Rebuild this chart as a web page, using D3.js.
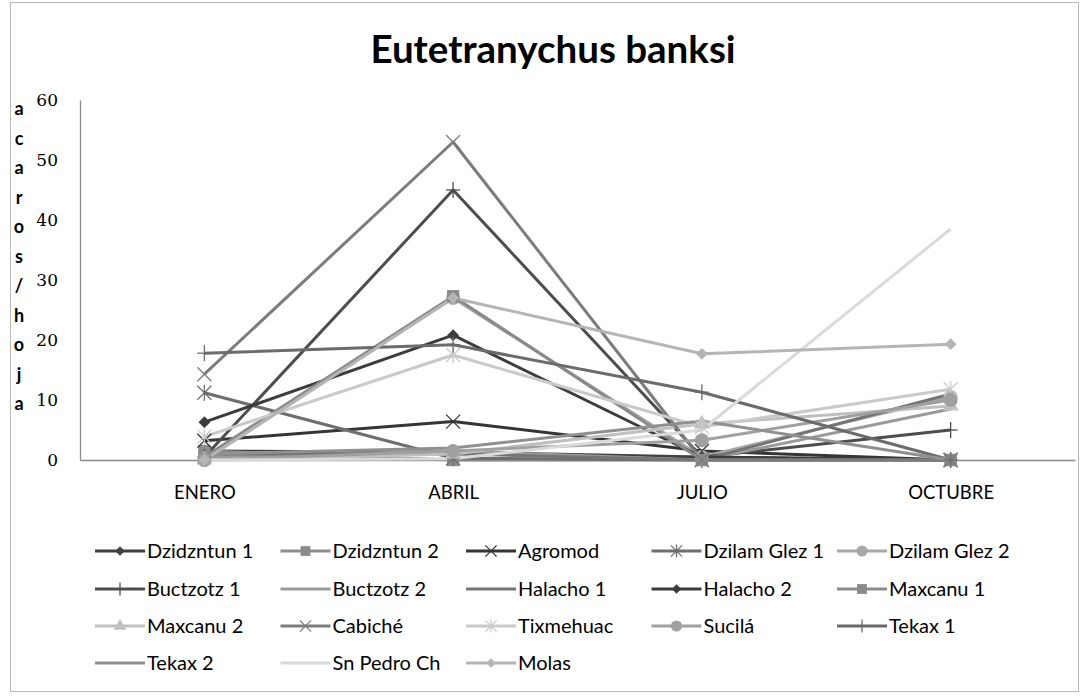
<!DOCTYPE html>
<html>
<head>
<meta charset="utf-8">
<script src="https://cdn.jsdelivr.net/npm/d3@7"></script>
<style>
  body { margin: 0; background: #fff; }
  svg { display: block; }
</style>
</head>
<body>
<div id="chart-area"></div>
<script>
// --- Data ---
var months = ["ENERO", "ABRIL", "JULIO", "OCTUBRE"];
var yTicks = [0, 10, 20, 30, 40, 50, 60];
var yTitle = ["a", "c", "a", "r", "o", "s", "/", "h", "o", "j", "a"];

var names = ["Dzidzntun 1", "Dzidzntun 2", "Agromod", "Dzilam Glez 1", "Dzilam Glez 2",
  "Buctzotz 1", "Buctzotz 2", "Halacho 1", "Halacho 2", "Maxcanu 1",
  "Maxcanu 2", "Cabiché", "Tixmehuac", "Sucilá", "Tekax 1",
  "Tekax 2", "Sn Pedro Ch", "Molas"];

var dzidzntun1 = [1.5, 1.3, 0.5, 0];
var dzidzntun2 = [1.5, 0, 0, 0];
var agromod = [3.2, 6.4, 1.5, 0];
var dzilamGlez1 = [11.2, 0.3, 0, 0];
var dzilamGlez2 = [0, 27, 0.5, 10.5];
var buctzotz1 = [0.5, 45, 0.5, 5];
var buctzotz2 = [0.5, 1.5, 0, 8.5];
var halacho1 = [1, 1, 0, 11];
var halacho2 = [6.3, 20.8, 0.5, 0];
var maxcanu1 = [0.5, 27.3, 0, 0];
var maxcanu2 = [0, 1, 6, 9];
var cabiche = [14.3, 53, 0, 0];
var tixmehuac = [3.9, 17.5, 5.5, 11.8];
var sucila = [0, 1.5, 3.3, 10];
var tekax1 = [17.8, 19.2, 11.3, 0];
var tekax2 = [1, 2, 6.5, 0];
var snPedro = [0, 0.2, 5, 38.5];
var molas = [0, 27, 17.7, 19.3];

var values = [dzidzntun1, dzidzntun2, agromod, dzilamGlez1, dzilamGlez2,
  buctzotz1, buctzotz2, halacho1, halacho2, maxcanu1,
  maxcanu2, cabiche, tixmehuac, sucila, tekax1,
  tekax2, snPedro, molas];

// grey shades + marker kind per series
var colors = ["#404040", "#8c8c8c", "#353535", "#6e6e6e", "#a8a8a8",
  "#4d4d4d", "#9a9a9a", "#747474", "#3c3c3c", "#8a8a8a",
  "#c0c0c0", "#7c7c7c", "#cacaca", "#a0a0a0", "#6b6b6b",
  "#909090", "#dadada", "#b5b5b5"];
var markers = ["diamond", "square", "x", "asterisk", "circle",
  "plus", "none", "none", "diamond", "square",
  "triangle", "x", "asterisk", "circle", "plus",
  "none", "none", "diamond"];

var series = names.map(function(n, i) {
  return { name: n, values: values[i], color: colors[i], marker: markers[i] };
});

// --- Setup the canvas ---
var W = 1087, H = 696;
var svg = d3.select("#chart-area").append("svg")
  .attr("width", W)
  .attr("height", H);

svg.append("rect")
  .attr("x", 10.5).attr("y", 2.5)
  .attr("width", 1068).attr("height", 689)
  .attr("fill", "#fff")
  .attr("stroke", "#b8b8b8");

var sans = "Lato, 'Open Sans', sans-serif";

svg.append("text")
  .text("Eutetranychus banksi")
  .attr("x", 553).attr("y", 63)
  .attr("text-anchor", "middle")
  .attr("font-family", sans)
  .attr("font-weight", "bold")
  .attr("font-size", "38.5px")
  .attr("fill", "#000");

// --- Scales ---
var x = d3.scalePoint()
  .domain(months)
  .range([80, 1075])
  .padding(0.5);

var y = d3.scaleLinear()
  .domain([0, 60])
  .range([460, 100]);

// --- Axes ---
var yAxis = svg.append("g")
  .attr("transform", "translate(80,0)")
  .call(d3.axisLeft(y).tickValues(yTicks).tickSize(0).tickPadding(22));
yAxis.select(".domain").attr("stroke", "#8a8a8a").attr("stroke-width", 1.3);
yAxis.selectAll("text")
  .attr("font-family", "'DejaVu Serif', serif")
  .attr("font-size", "17px")
  .attr("fill", "#000");

var xAxis = svg.append("g")
  .attr("transform", "translate(0,460)")
  .call(d3.axisBottom(x).tickSize(0).tickPadding(26));
xAxis.select(".domain").attr("stroke", "#8a8a8a").attr("stroke-width", 1.3);
xAxis.selectAll("text")
  .attr("font-family", sans)
  .attr("font-size", "18.5px")
  .attr("fill", "#000");

svg.append("g").selectAll("text")
  .data(yTitle)
  .enter().append("text")
  .text(function(d) { return d; })
  .attr("x", 19)
  .attr("y", function(d, i) { return 115 + i * 29.5; })
  .attr("text-anchor", "middle")
  .attr("font-family", sans)
  .attr("font-weight", "bold")
  .attr("font-size", "18px");

// --- Markers ---
function drawMarker(g, kind, color, cx, cy, scale) {
  var s = scale || 1;
  var m = g.append("g").attr("transform", "translate(" + cx + "," + cy + ")");
  if (kind === "diamond") {
    m.append("path").attr("d", d3.symbol().type(d3.symbolSquare).size(70 * s * s)())
      .attr("transform", "rotate(45)").attr("fill", color);
  } else if (kind === "square") {
    m.append("path").attr("d", d3.symbol().type(d3.symbolSquare).size(150 * s * s)())
      .attr("fill", color);
  } else if (kind === "circle") {
    m.append("circle").attr("r", 7 * s).attr("fill", color);
  } else if (kind === "triangle") {
    m.append("path").attr("d", d3.symbol().type(d3.symbolTriangle).size(110 * s * s)())
      .attr("fill", color);
  } else if (kind === "x" || kind === "asterisk" || kind === "plus") {
    var r = 7 * s;
    var segs = [];
    if (kind !== "plus") segs.push([-r, -r, r, r], [-r, r, r, -r]);
    if (kind !== "x") segs.push([0, -r * 1.15, 0, r * 1.15]);
    if (kind === "plus") segs.push([-r, 0, r, 0]);
    segs.forEach(function(p) {
      m.append("line")
        .attr("x1", p[0]).attr("y1", p[1]).attr("x2", p[2]).attr("y2", p[3])
        .attr("stroke", color).attr("stroke-width", 1.3);
    });
  }
}

// --- Lines ---
var line = d3.line()
  .x(function(d, i) { return x(months[i]); })
  .y(function(d) { return y(d); });

var plot = svg.append("g");
series.forEach(function(s) {
  plot.append("path")
    .datum(s.values)
    .attr("d", line)
    .attr("fill", "none")
    .attr("stroke", s.color)
    .attr("stroke-width", 3)
    .attr("stroke-linejoin", "round");
});
series.forEach(function(s) {
  s.values.forEach(function(v, i) {
    drawMarker(plot, s.marker, s.color, x(months[i]), y(v));
  });
});

// --- Legend ---
var rowY = [551, 589, 626, 663];
var legend = svg.append("g");
series.forEach(function(s, i) {
  var cx = 95 + (i % 5) * 185.5, cy = rowY[Math.floor(i / 5)];
  var item = legend.append("g");
  item.append("line")
    .attr("x1", cx).attr("x2", cx + 50)
    .attr("y1", cy).attr("y2", cy)
    .attr("stroke", s.color).attr("stroke-width", 3);
  drawMarker(item, s.marker, s.color, cx + 25, cy, 0.8);
  item.append("text")
    .text(s.name)
    .attr("x", cx + 52).attr("y", cy)
    .attr("dy", "0.35em")
    .attr("font-family", sans)
    .attr("font-size", "20px")
    .attr("fill", "#000");
});
</script>
</body>
</html>
